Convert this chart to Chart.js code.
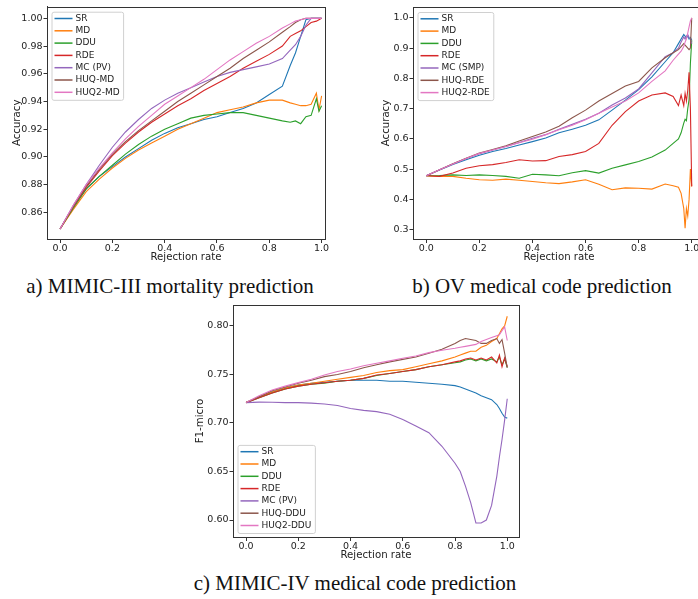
<!DOCTYPE html>
<html>
<head>
<meta charset="utf-8">
<script src="https://cdn.jsdelivr.net/npm/chart.js@4.4.1/dist/chart.umd.min.js"></script>
<style>
  html, body { margin: 0; padding: 0; background: #fff; }
  body { width: 698px; height: 599px; overflow: hidden; position: relative; }
  canvas { position: absolute; }
  .cap { position: absolute; font-family: "Liberation Serif", "DejaVu Serif", serif; font-size: 21px; line-height: 21px; color: #111; white-space: nowrap; transform: translateX(-50%); }
</style>
</head>
<body>
<canvas id="chartA" width="340" height="265" style="left:0px;top:0px;width:340px;height:265px"></canvas>
<canvas id="chartB" width="345" height="265" style="left:366px;top:0px;width:345px;height:265px"></canvas>
<canvas id="chartC" width="345" height="265" style="left:186px;top:298px;width:345px;height:265px"></canvas>
<div class="cap" style="left:170px;top:276px">a) MIMIC-III mortality prediction</div>
<div class="cap" style="left:542px;top:276px">b) OV medical code prediction</div>
<div class="cap" style="left:355px;top:573px">c) MIMIC-IV medical code prediction</div>
<script>
// tick labels
var xTicks = [0.0, 0.2, 0.4, 0.6, 0.8, 1.0];
var yTicksA = [0.86, 0.88, 0.90, 0.92, 0.94, 0.96, 0.98, 1.00];
var yTicksB = [0.3, 0.4, 0.5, 0.6, 0.7, 0.8, 0.9, 1.0];
var yTicksC = [0.60, 0.65, 0.70, 0.75, 0.80];

// a) MIMIC-III mortality prediction
var ratesA = [0, 0.05, 0.1, 0.15, 0.2, 0.25, 0.3, 0.35, 0.4, 0.45, 0.5, 0.55, 0.6, 0.65, 0.7, 0.75, 0.8, 0.85, 0.88, 0.9, 0.92, 0.94, 0.96, 0.98, 0.99, 1.0];
var srA   = [0.848, 0.864, 0.877, 0.886, 0.893, 0.900, 0.906, 0.912, 0.917, 0.921, 0.924, 0.927, 0.929, 0.932, 0.935, 0.939, 0.945, 0.951, 0.966, 0.975, 0.987, 0.999, 1.0, 1.0, 1.0, 1.0];
var mdA   = [0.848, 0.862, 0.875, 0.884, 0.892, 0.899, 0.905, 0.910, 0.915, 0.920, 0.924, 0.928, 0.932, 0.934, 0.936, 0.939, 0.941, 0.941, 0.939, 0.938, 0.937, 0.937, 0.938, 0.946, 0.934, 0.944];
var dduA  = [0.848, 0.863, 0.877, 0.886, 0.894, 0.902, 0.909, 0.915, 0.920, 0.924, 0.928, 0.930, 0.931, 0.932, 0.932, 0.930, 0.928, 0.926, 0.925, 0.926, 0.924, 0.929, 0.930, 0.942, 0.933, 0.937];
var rdeA  = [0.848, 0.864, 0.878, 0.890, 0.901, 0.910, 0.918, 0.925, 0.931, 0.937, 0.942, 0.948, 0.953, 0.958, 0.964, 0.969, 0.974, 0.980, 0.987, 0.989, 0.991, 0.994, 0.997, 0.998, 0.999, 1.0];
var mcA   = [0.848, 0.865, 0.880, 0.894, 0.907, 0.918, 0.927, 0.935, 0.941, 0.946, 0.950, 0.954, 0.958, 0.961, 0.963, 0.965, 0.967, 0.971, 0.977, 0.981, 0.987, 0.995, 1.0, 1.0, 1.0, 1.0];
var huqA  = [0.848, 0.864, 0.879, 0.891, 0.902, 0.911, 0.919, 0.926, 0.933, 0.940, 0.946, 0.952, 0.958, 0.964, 0.971, 0.977, 0.983, 0.990, 0.994, 0.997, 0.999, 1.0, 1.0, 1.0, 1.0, 1.0];
var huq2A = [0.848, 0.865, 0.880, 0.892, 0.903, 0.913, 0.922, 0.930, 0.938, 0.944, 0.950, 0.956, 0.963, 0.970, 0.976, 0.982, 0.987, 0.993, 0.996, 0.998, 0.999, 1.0, 1.0, 1.0, 1.0, 1.0];

// b) OV medical code prediction
var ratesB = [0, 0.05, 0.1, 0.15, 0.2, 0.25, 0.3, 0.35, 0.4, 0.45, 0.5, 0.55, 0.6, 0.65, 0.7, 0.75, 0.8, 0.85, 0.9, 0.93, 0.95, 0.96, 0.97, 0.975, 0.98, 0.985, 0.99, 0.995, 1.0];
var srB   = [0.478, 0.497, 0.515, 0.531, 0.546, 0.558, 0.568, 0.580, 0.591, 0.603, 0.620, 0.632, 0.645, 0.663, 0.695, 0.728, 0.763, 0.805, 0.855, 0.885, 0.915, 0.930, 0.945, 0.940, 0.935, 0.940, 0.930, 0.935, 0.926];
var mdB   = [0.478, 0.476, 0.476, 0.470, 0.465, 0.463, 0.467, 0.463, 0.459, 0.455, 0.452, 0.458, 0.465, 0.450, 0.432, 0.438, 0.437, 0.434, 0.451, 0.445, 0.440, 0.420, 0.370, 0.305, 0.370, 0.345, 0.400, 0.500, 0.443];
var dduB  = [0.478, 0.479, 0.481, 0.479, 0.481, 0.479, 0.476, 0.470, 0.483, 0.481, 0.478, 0.488, 0.495, 0.487, 0.503, 0.514, 0.525, 0.540, 0.563, 0.585, 0.600, 0.620, 0.652, 0.665, 0.660, 0.700, 0.730, 0.850, 0.926];
var rdeB  = [0.478, 0.476, 0.487, 0.503, 0.511, 0.515, 0.522, 0.531, 0.527, 0.528, 0.542, 0.548, 0.558, 0.585, 0.645, 0.690, 0.725, 0.745, 0.752, 0.740, 0.710, 0.745, 0.710, 0.750, 0.725, 0.760, 0.820, 0.700, 0.443];
var mcB   = [0.478, 0.498, 0.517, 0.535, 0.551, 0.563, 0.575, 0.588, 0.602, 0.614, 0.632, 0.648, 0.665, 0.685, 0.712, 0.735, 0.765, 0.818, 0.872, 0.885, 0.900, 0.920, 0.937, 0.930, 0.940, 0.945, 0.935, 0.930, 0.915];
var huqB  = [0.478, 0.498, 0.518, 0.536, 0.553, 0.565, 0.577, 0.593, 0.608, 0.623, 0.642, 0.670, 0.695, 0.725, 0.750, 0.775, 0.790, 0.835, 0.868, 0.885, 0.895, 0.905, 0.915, 0.910, 0.905, 0.900, 0.895, 0.900, 1.0];
var huq2B = [0.478, 0.498, 0.517, 0.535, 0.552, 0.563, 0.575, 0.587, 0.599, 0.614, 0.630, 0.645, 0.663, 0.685, 0.705, 0.725, 0.752, 0.790, 0.825, 0.860, 0.880, 0.890, 0.905, 0.920, 0.930, 0.950, 0.970, 0.990, 1.0];

// c) MIMIC-IV medical code prediction
var ratesC = [0, 0.05, 0.1, 0.15, 0.2, 0.25, 0.3, 0.35, 0.4, 0.45, 0.5, 0.55, 0.6, 0.65, 0.7, 0.75, 0.8, 0.82, 0.84, 0.86, 0.88, 0.9, 0.92, 0.94, 0.96, 0.97, 0.98, 0.99, 1.0];
var srC   = [0.721, 0.727, 0.732, 0.736, 0.739, 0.741, 0.742, 0.743, 0.744, 0.744, 0.744, 0.743, 0.743, 0.742, 0.741, 0.740, 0.7385, 0.737, 0.735, 0.733, 0.731, 0.728, 0.726, 0.724, 0.719, 0.715, 0.710, 0.706, 0.705];
var mdC   = [0.721, 0.727, 0.732, 0.736, 0.739, 0.741, 0.743, 0.745, 0.747, 0.749, 0.752, 0.754, 0.755, 0.758, 0.761, 0.764, 0.768, 0.770, 0.772, 0.774, 0.774, 0.778, 0.780, 0.784, 0.787, 0.792, 0.797, 0.800, 0.810];
var dduC  = [0.721, 0.726, 0.731, 0.735, 0.738, 0.740, 0.741, 0.743, 0.744, 0.746, 0.749, 0.751, 0.753, 0.755, 0.758, 0.760, 0.762, 0.763, 0.765, 0.766, 0.764, 0.766, 0.764, 0.766, 0.763, 0.768, 0.760, 0.766, 0.757];
var rdeC  = [0.721, 0.726, 0.731, 0.735, 0.738, 0.740, 0.7415, 0.743, 0.744, 0.746, 0.7495, 0.751, 0.753, 0.755, 0.758, 0.760, 0.763, 0.764, 0.766, 0.767, 0.765, 0.767, 0.765, 0.768, 0.762, 0.770, 0.758, 0.767, 0.758];
var mcC   = [0.721, 0.7215, 0.7213, 0.721, 0.721, 0.7205, 0.7196, 0.718, 0.715, 0.713, 0.7117, 0.709, 0.7035, 0.697, 0.690, 0.676, 0.6585, 0.650, 0.635, 0.618, 0.597, 0.597, 0.600, 0.615, 0.645, 0.665, 0.683, 0.703, 0.725];
var huqC  = [0.721, 0.727, 0.7333, 0.737, 0.741, 0.744, 0.7478, 0.750, 0.753, 0.757, 0.760, 0.763, 0.7656, 0.768, 0.7718, 0.776, 0.782, 0.785, 0.787, 0.786, 0.785, 0.782, 0.782, 0.785, 0.787, 0.782, 0.786, 0.772, 0.757];
var huq2C = [0.721, 0.728, 0.734, 0.738, 0.7416, 0.745, 0.7495, 0.753, 0.7557, 0.759, 0.7615, 0.764, 0.7667, 0.769, 0.7725, 0.775, 0.777, 0.778, 0.779, 0.780, 0.781, 0.784, 0.786, 0.788, 0.790, 0.791, 0.795, 0.799, 0.785];

var colors = ['#1f77b4', '#ff7f0e', '#2ca02c', '#d62728', '#9467bd', '#8c564b', '#e377c2'];
var tickFont = { family: 'DejaVu Sans', size: 9.5 };
var titleFont = { family: 'DejaVu Sans', size: 10.2 };
var textColor = '#222';

// black box round the plot area (matplotlib spines)
var frame = {
  id: 'frame',
  afterDraw: function (chart) {
    var a = chart.chartArea, ctx = chart.ctx;
    ctx.save();
    ctx.strokeStyle = '#333';
    ctx.lineWidth = 1;
    ctx.strokeRect(Math.round(a.left) + 0.5, Math.round(a.top) + 0.5, Math.round(a.right - a.left), Math.round(a.bottom - a.top));
    ctx.restore();
  }
};

// legend drawn inside the plot area, like matplotlib
var boxLegend = {
  id: 'boxLegend',
  afterDraw: function (chart, args, opts) {
    var a = chart.chartArea, ctx = chart.ctx;
    var sets = chart.data.datasets;
    var rowH = 12.3;
    ctx.save();
    ctx.font = '9px "DejaVu Sans"';
    var w = 0;
    sets.forEach(function (d) { w = Math.max(w, ctx.measureText(d.label).width); });
    var boxW = w + 27.5, boxH = rowH * sets.length + 2;
    var x = a.left + 4.5;
    var y = opts.corner === 'bottom' ? a.bottom - 4 - boxH : a.top + 5;
    ctx.fillStyle = 'rgba(255,255,255,0.8)';
    ctx.strokeStyle = '#d0d0d0';
    ctx.lineWidth = 1;
    ctx.beginPath();
    ctx.roundRect(x + 0.5, y + 0.5, boxW, boxH, 2);
    ctx.fill();
    ctx.stroke();
    ctx.textBaseline = 'middle';
    sets.forEach(function (d, i) {
      var cy = y + 6.8 + i * rowH;
      ctx.strokeStyle = d.borderColor;
      ctx.lineWidth = 1.5;
      ctx.beginPath();
      ctx.moveTo(x + 3, cy);
      ctx.lineTo(x + 21, cy);
      ctx.stroke();
      ctx.fillStyle = textColor;
      ctx.fillText(d.label, x + 24, cy);
    });
    ctx.restore();
  }
};

function makeChart(id, rates, labels, series, cfg) {
  var datasets = series.map(function (vals, i) {
    return {
      label: labels[i],
      data: rates.map(function (r, j) { return { x: r, y: vals[j] }; }),
      borderColor: colors[i],
      borderWidth: 1.1,
      pointRadius: 0,
      tension: 0,
      fill: false,
      order: series.length - i
    };
  });
  return new Chart(document.getElementById(id), {
    type: 'line',
    data: { datasets: datasets },
    options: {
      responsive: false,
      animation: false,
      events: [],
      layout: { padding: { top: cfg.padTop, right: cfg.padRight, left: 0, bottom: 0 } },
      plugins: { legend: { display: false }, tooltip: { enabled: false }, boxLegend: { corner: cfg.corner } },
      scales: {
        x: {
          type: 'linear', min: -0.05, max: cfg.xMax,
          afterBuildTicks: function (s) { s.ticks = xTicks.map(function (v) { return { value: v }; }); },
          afterFit: function (s) { s.height = 26; },
          ticks: { callback: function (v) { return v.toFixed(1); }, font: tickFont, color: textColor, padding: 0, maxRotation: 0, autoSkip: false },
          grid: { drawOnChartArea: false, tickLength: 4, color: '#333' },
          border: { color: '#333' },
          title: { display: true, text: 'Rejection rate', font: titleFont, color: textColor, padding: { top: 0, bottom: 2 } }
        },
        y: {
          min: cfg.yMin, max: cfg.yMax,
          afterBuildTicks: function (s) { s.ticks = cfg.yTicks.map(function (v) { return { value: v }; }); },
          afterFit: function (s) { s.width = 47; },
          ticks: { callback: function (v) { return v.toFixed(cfg.digits); }, font: tickFont, color: textColor, padding: 1, autoSkip: false },
          grid: { drawOnChartArea: false, tickLength: 3.5, color: '#333' },
          border: { color: '#333' },
          title: { display: true, text: cfg.yTitle, font: titleFont, color: textColor, padding: { top: cfg.yTitlePad, bottom: 0 } }
        }
      }
    },
    plugins: [frame, boxLegend]
  });
}

makeChart('chartA', ratesA, ['SR', 'MD', 'DDU', 'RDE', 'MC (PV)', 'HUQ-MD', 'HUQ2-MD'],
  [srA, mdA, dduA, rdeA, mcA, huqA, huq2A],
  { padTop: 6, padRight: 15, xMax: 1.013, yMin: 0.8408, yMax: 1.0084, yTicks: yTicksA, digits: 2, yTitle: 'Accuracy', yTitlePad: 11, corner: 'top' });

makeChart('chartB', ratesB, ['SR', 'MD', 'DDU', 'RDE', 'MC (SMP)', 'HUQ-RDE', 'HUQ2-RDE'],
  [srB, mdB, dduB, rdeB, mcB, huqB, huq2B],
  { padTop: 7, padRight: 6, xMax: 1.05, yMin: 0.269, yMax: 1.036, yTicks: yTicksB, digits: 1, yTitle: 'Accuracy', yTitlePad: 14.6, corner: 'top' });

makeChart('chartC', ratesC, ['SR', 'MD', 'DDU', 'RDE', 'MC (PV)', 'HUQ-DDU', 'HUQ2-DDU'],
  [srC, mdC, dduC, rdeC, mcC, huqC, huq2C],
  { padTop: 7, padRight: 12, xMax: 1.045, yMin: 0.5825, yMax: 0.8216, yTicks: yTicksC, digits: 2, yTitle: 'F1-micro', yTitlePad: 8, corner: 'bottom' });
</script>
</body>
</html>
